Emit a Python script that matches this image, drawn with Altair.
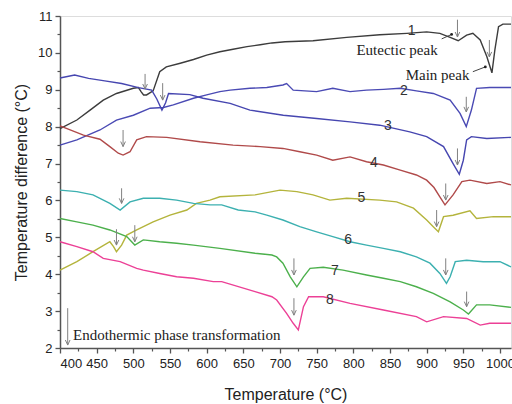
import altair as alt
import pandas as pd

# ---- data ----
t1 = [400,423,441,459,477,500,507,510.5,514,518,527,536,545,564,582,600,618,636,655,673,689,707,745,791,836,873,900,918,932,943,954.5,963,973,982,989,993,998,1004,1015]
v1 = [7.95,8.18,8.45,8.72,8.90,9.04,9.06,8.95,8.86,8.86,8.97,9.49,9.62,9.72,9.82,9.94,10.03,10.10,10.17,10.22,10.27,10.30,10.33,10.42,10.49,10.53,10.57,10.53,10.42,10.33,10.48,10.53,10.35,9.90,9.46,10.08,10.71,10.78,10.78]

t2 = [400,423,454.5,477,500,523,541,554.5,582,600,618,632,659,682,704,709,718,750,772,795.5,818,841,864,886,909,932,945.5,954,961,968,986,1015]
v2 = [7.50,7.64,7.91,8.18,8.31,8.50,8.52,8.59,8.77,8.86,8.95,8.99,9.04,9.06,9.13,9.17,8.99,8.95,9.04,8.95,8.99,9.01,9.04,8.97,8.90,8.72,8.36,8.00,8.45,9.04,9.06,9.06]

t3 = [400,420,439,461,484,507,525,532,539,544,548,577,595,632,659,704.5,750,795.5,836,877,900,923,936,944.5,950,954.5,961,982,1015]
v3 = [9.32,9.40,9.31,9.24,9.17,9.06,8.99,8.75,8.45,8.65,8.90,8.87,8.77,8.63,8.45,8.31,8.22,8.13,8.04,7.86,7.73,7.46,7.00,6.71,7.09,7.64,7.73,7.68,7.71]

t4 = [400,432,454.5,468,479.5,486,495.5,504.6,518,545.5,591,636,673,704,727,750,772,795.5,818,841,864,886,900,910,918,925,936,948,959,982,1000,1015]
v4 = [8.02,7.77,7.66,7.46,7.28,7.23,7.32,7.64,7.73,7.71,7.59,7.50,7.46,7.41,7.32,7.23,7.09,7.18,7.05,6.96,6.82,6.69,6.55,6.35,6.10,5.88,6.15,6.51,6.55,6.46,6.51,6.42]

t5 = [400,423,445,468,473,477,484,491,504.6,527,550,573,586,604.5,618,666,700,723,745,768,791,836,859,882,900,909,916,923,936,959,968,991,1015]
v5 = [4.11,4.34,4.61,4.88,4.75,4.61,4.79,5.06,5.20,5.42,5.60,5.74,5.92,6.01,6.10,6.15,6.28,6.24,6.15,6.01,6.06,6.01,5.96,5.79,5.47,5.29,5.15,5.56,5.60,5.72,5.51,5.56,5.56]

t6 = [400,423,445,468,482,495.5,513.6,536,559,582,604.5,620.5,643,666,682,704,727,750,772,795.5,818,841,864,886,904.5,918,927,932,939,954.5,977,1000,1015]
v6 = [6.28,6.24,6.15,5.92,5.74,5.96,6.06,6.06,6.01,5.92,5.88,5.88,5.74,5.69,5.60,5.47,5.29,5.15,5.02,4.88,4.79,4.70,4.61,4.47,4.30,4.02,3.75,3.93,4.34,4.38,4.34,4.34,4.20]

t7 = [400,423,445,468,491,502,513.6,536,559,582,618,666,689,695.5,704,714,723,732,741,759,786,818,841,864,886,909,932,950,957,968,986,1015]
v7 = [5.51,5.42,5.33,5.20,5.02,4.79,4.93,4.88,4.84,4.79,4.70,4.57,4.52,4.47,4.30,3.93,3.66,3.93,4.16,4.19,4.11,3.98,3.89,3.80,3.66,3.48,3.25,3.03,2.92,3.17,3.17,3.10]

t8 = [400,423,445,459,482,504.6,513.6,536,559,582,609,620.5,666,689,695.5,709,718,725,732,739,759,795.5,841,886,900,923,954.5,973,986,1015]
v8 = [4.88,4.75,4.61,4.43,4.34,4.16,4.11,4.02,3.93,3.89,3.80,3.80,3.53,3.39,3.30,2.94,2.67,2.49,3.12,3.39,3.39,3.21,3.03,2.85,2.71,2.85,2.80,2.62,2.67,2.67]

series_names = ["1", "2", "3", "4", "5", "6", "7", "8"]
series_colors = ["#3c3c3c", "#4a4ab4", "#4646b0", "#b04a4a", "#b4b43c", "#3cb0b0", "#4cb04c", "#ec4096"]

# curve number labels
label_text = ["1", "2", "3", "4", "5", "6", "7", "8"]
label_t = [879.5, 869, 847, 828, 811, 793, 775, 768]
label_v = [10.58, 8.97, 8.02, 7.01, 6.06, 4.93, 4.09, 3.30]

# arrows: x position, top, tip
arrow_t = [516, 540, 942, 985.5, 954, 942, 926, 913.6, 926, 954.5, 719, 719, 486, 484, 477, 502, 410.5]
arrow_top = [9.43, 9.18, 10.9, 10.35, 8.81, 7.41, 6.46, 5.74, 4.43, 3.53, 4.43, 3.35, 7.91, 6.33, 5.22, 5.33, 3.08]
arrow_tip = [9.02, 8.72, 10.43, 9.89, 8.40, 6.96, 6.01, 5.29, 3.98, 3.12, 3.98, 2.89, 7.46, 5.92, 4.79, 4.88, 2.08]

# annotation texts
note_text = ["Eutectic peak", "Main peak"]
note_t = [859.6, 914.8]
note_v = [10.08, 9.40]
leader_t1 = [920.5, 963]
leader_v1 = [10.38, 9.49]
leader_t2 = [934, 980]
leader_v2 = [10.50, 9.62]
legend_text = ["Endothermic phase transformation"]
legend_t = [417.7]
legend_v = [2.35]

major_x = list(range(400, 1001, 50))
minor_x = list(range(425, 1001, 50))
major_y = list(range(2, 12))
minor_y = [2.5, 3.5, 4.5, 5.5, 6.5, 7.5, 8.5, 9.5, 10.5]

# ---- build tables ----
all_t = [t1, t2, t3, t4, t5, t6, t7, t8]
all_v = [v1, v2, v3, v4, v5, v6, v7, v8]
rows = []
for name, ts, vs in zip(series_names, all_t, all_v):
    for i, (t, v) in enumerate(zip(ts, vs)):
        rows.append({"s": name, "T": t, "V": v, "i": i})
df = pd.DataFrame(rows)

xscale = alt.Scale(domain=[400, 1015], nice=False, zero=False)
yscale = alt.Scale(domain=[2, 11], nice=False, zero=False)
AX = "#555555"
FONT = "Liberation Sans"
SERIF = "Liberation Serif"

xaxis = alt.Axis(values=major_x, format="d", tickSize=5, tickColor=AX, tickWidth=1.3, domainColor=AX, domainWidth=1.5,
                 labelFont=FONT, labelFontSize=13, labelColor="#222", labelPadding=4, grid=False,
                 title="Temperature (°C)", titleFont=FONT, titleFontSize=16, titleFontWeight="normal",
                 titleColor="#222", titlePadding=16, labelOverlap=False, orient="bottom")
yaxis = alt.Axis(values=major_y, format="d", tickSize=5, tickColor=AX, tickWidth=1.3, domainColor=AX, domainWidth=1.5,
                 labelFont=FONT, labelFontSize=13, labelColor="#222", labelPadding=3, grid=False,
                 title="Temperature difference (°C)", titleFont=FONT, titleFontSize=16,
                 titleFontWeight="normal", titleColor="#222", titlePadding=8, labelOverlap=False, orient="left")

def X(field):
    return alt.X(field, scale=xscale, axis=None)

def Y(field):
    return alt.Y(field, scale=yscale, axis=None)

lines = alt.Chart(df).mark_line(strokeWidth=1.4).encode(
    x=alt.X("T:Q", scale=xscale, axis=xaxis),
    y=alt.Y("V:Q", scale=yscale, axis=yaxis),
    color=alt.Color("s:N", scale=alt.Scale(domain=series_names, range=series_colors), legend=None),
    order="i:Q",
)

minor = alt.Chart(pd.DataFrame({"T": [400], "V": [2]})).mark_point(opacity=0).encode(
    x=alt.X("T:Q", scale=xscale, axis=alt.Axis(values=minor_x, labels=False, domain=False, tickSize=3,
                                                tickColor=AX, tickWidth=1.2, grid=False, title=None, orient="bottom")),
    y=alt.Y("V:Q", scale=yscale, axis=alt.Axis(values=minor_y, labels=False, domain=False, tickSize=3,
                                                tickColor=AX, tickWidth=1.2, grid=False, title=None, orient="left")),
)

adf = pd.DataFrame({"T": arrow_t, "top": arrow_top, "tip": arrow_tip})
arrow_shaft = alt.Chart(adf).mark_rule(color="#808080", strokeWidth=1).encode(
    x=X("T:Q"), y=Y("top:Q"), y2="tip:Q")
arrow_head = alt.Chart(adf).mark_point(shape="M-0.6,-1.3L0,0L0.6,-1.3", size=60, filled=False,
                                       color="#808080", strokeWidth=1, opacity=1).encode(
    x=X("T:Q"), y=Y("tip:Q"))

ldf = pd.DataFrame({"t1": leader_t1, "v1": leader_v1, "t2": leader_t2, "v2": leader_v2})
leaders = alt.Chart(ldf).mark_rule(color="#444", strokeWidth=1).encode(
    x=X("t1:Q"), x2="t2:Q", y=Y("v1:Q"), y2="v2:Q")
dots = alt.Chart(ldf).mark_point(filled=True, size=8, color="#222", opacity=1).encode(
    x=X("t2:Q"), y=Y("v2:Q"))

ndf = pd.DataFrame({"T": note_t, "V": note_v, "txt": note_text})
notes = alt.Chart(ndf).mark_text(font=SERIF, fontSize=15, color="#222").encode(
    x=X("T:Q"), y=Y("V:Q"), text="txt:N")

gdf = pd.DataFrame({"T": legend_t, "V": legend_v, "txt": legend_text})
legend_note = alt.Chart(gdf).mark_text(font=SERIF, fontSize=15, color="#222", align="left").encode(
    x=X("T:Q"), y=Y("V:Q"), text="txt:N")

cdf = pd.DataFrame({"T": label_t, "V": label_v, "txt": label_text})
curve_labels = alt.Chart(cdf).mark_text(font=FONT, fontSize=14, color="#333").encode(
    x=X("T:Q"), y=Y("V:Q"), text="txt:N")

chart = alt.layer(
    lines, minor, arrow_shaft, arrow_head, leaders, dots, notes, legend_note, curve_labels
).resolve_axis(x="independent", y="independent").properties(
    width=451, height=332,
    autosize=alt.AutoSizeParams(type="none"),
    padding={"left": 60, "top": 16, "right": 1, "bottom": 56},
).configure_view(stroke=None).configure(background="white")

chart.save("out.html", embed_options={"renderer": "svg", "actions": False})
